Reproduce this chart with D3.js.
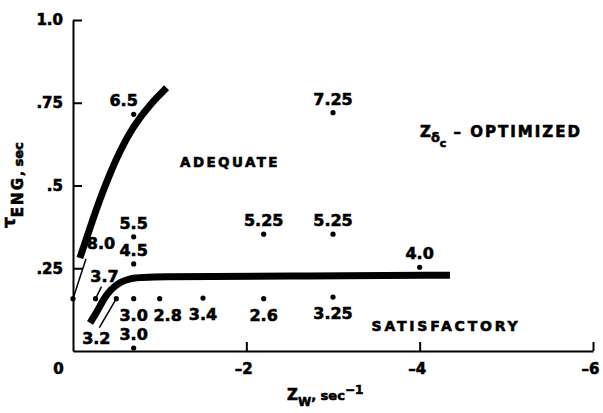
<!DOCTYPE html>
<html>
<head>
<meta charset="utf-8">
<script src="https://cdn.jsdelivr.net/npm/d3@7"></script>
<style>
  body { margin: 0; background: #fff; }
  svg { display: block; }
  text { font-family: "DejaVu Sans", sans-serif; font-weight: bold; fill: #000; stroke: #000; stroke-width: 0.6px; }
</style>
</head>
<body>
<svg id="chart" width="603" height="413"></svg>
<script>
// pilot ratings, tau_ENG vs Z_w
const ptZw = [-0.7, -3.0, -0.7, -0.7, -2.2, -3.0, -4.0, 0, -0.26, -0.5, -0.7, -1.0, -1.5, -2.2, -3.0, -0.7]
const ptTau = [0.715, 0.72, 0.345, 0.263, 0.353, 0.353, 0.253, 0.158, 0.158, 0.158, 0.158, 0.158, 0.16, 0.158, 0.163, 0.009]
const ptRating = ['6.5', '7.25', '5.5', '4.5', '5.25', '5.25', '4.0', '8.0', '3.7', '3.2', '3.0', '2.8', '3.4', '2.6', '3.25', '3.0']
const ptPlace = ['nw', 'n', 'n', 'n', 'n', 'n', 'n', 'lead8', 'lead37', 'lead32', 's', 'se', 's', 's', 's', 'n']

// boundary curves
const bound1Zw = [-0.08, -0.196, -0.31, -0.43, -0.54, -0.69, -0.89, -1.08]
const bound1Tau = [0.281, 0.372, 0.459, 0.538, 0.604, 0.677, 0.746, 0.795]
const bound2Zw = [-0.196, -0.277, -0.346, -0.427, -0.54, -0.66, -0.85, -2.5, -4.35]
const bound2Tau = [0.085, 0.118, 0.154, 0.184, 0.208, 0.22, 0.225, 0.226, 0.229]

const xTicks = [0, -2, -4, -6]
const yTicks = [0.25, 0.5, 0.75, 1.0]

const svg = d3.select('#chart')
svg.append('rect').attr('width', 603).attr('height', 413).attr('fill', '#fff')

const x = d3.scaleLinear().domain([0, -6]).range([73, 593])
const y = d3.scaleLinear().domain([0, 1]).range([351, 20])

const xAxis = svg.append('g')
  .attr('transform', `translate(0,${y(0)})`)
  .call(d3.axisBottom(x).tickValues(xTicks).tickSize(-9).tickSizeOuter(0).tickPadding(12)
    .tickFormat(d => d === 0 ? '0' : '\u2013' + Math.abs(d)))
xAxis.selectAll('text').attr('font-size', 15).attr('font-family', null)
  .attr('dx', d => d === 0 ? -15 : -3)
xAxis.selectAll('line,path').attr('stroke', '#000').attr('stroke-width', 2)
xAxis.selectAll('.tick').filter(d => d === 0).select('line').remove()

const yAxis = svg.append('g')
  .attr('transform', `translate(${x(0)},0)`)
  .call(d3.axisLeft(y).tickValues(yTicks).tickSize(-9).tickSizeOuter(0).tickPadding(10)
    .tickFormat(d => d === 1 ? '1.0' : String(d).replace('0.', '.')))
yAxis.selectAll('text').attr('font-size', 15).attr('font-family', null)
yAxis.selectAll('line,path').attr('stroke', '#000').attr('stroke-width', 2)
svg.selectAll('.domain').attr('fill', 'none')

// boundary lines
const line = d3.line().x(d => x(d[0])).y(d => y(d[1])).curve(d3.curveBasis)
svg.append('path')
  .attr('d', line(bound1Zw.map((v, i) => [v, bound1Tau[i]])))
  .attr('fill', 'none').attr('stroke', '#000').attr('stroke-width', 7)
svg.append('path')
  .attr('d', line(bound2Zw.map((v, i) => [v, bound2Tau[i]])))
  .attr('fill', 'none').attr('stroke', '#000').attr('stroke-width', 7)

// label placements relative to the dot
const place = {
  n: { dx: 0, dy: -8 },
  nw: { dx: -10, dy: -8 },
  s: { dx: 0, dy: 22 },
  se: { dx: 8, dy: 22 },
  lead8: { dx: 28, dy: -50, lx: 13, ly: -40 },
  lead37: { dx: 9, dy: -17, lx: 6, ly: -12 },
  lead32: { dx: -20, dy: 45, lx: -17, ly: 29 }
}

const pts = ptZw.map((v, i) => ({ zw: v, tau: ptTau[i], r: ptRating[i], p: place[ptPlace[i]] }))

svg.selectAll('.lead').data(pts.filter(d => d.p.lx !== undefined)).join('line')
  .attr('class', 'lead')
  .attr('x1', d => x(d.zw)).attr('y1', d => y(d.tau))
  .attr('x2', d => x(d.zw) + d.p.lx).attr('y2', d => y(d.tau) + d.p.ly)
  .attr('stroke', '#000').attr('stroke-width', 1.5)

svg.selectAll('.dot').data(pts).join('circle')
  .attr('class', 'dot')
  .attr('cx', d => x(d.zw)).attr('cy', d => y(d.tau)).attr('r', 2.6)
  .attr('fill', '#000')

svg.selectAll('.rating').data(pts).join('text')
  .attr('class', 'rating')
  .attr('x', d => x(d.zw) + d.p.dx).attr('y', d => y(d.tau) + d.p.dy)
  .attr('text-anchor', 'middle').attr('font-size', 16)
  .text(d => d.r)

// region labels
svg.append('text').attr('x', 230).attr('y', 167).attr('text-anchor', 'middle')
  .attr('font-size', 13.5).attr('letter-spacing', 2.4).text('ADEQUATE')
svg.append('text').attr('x', 446).attr('y', 331).attr('text-anchor', 'middle')
  .attr('font-size', 14).attr('letter-spacing', 2.8).text('SATISFACTORY')

const opt = svg.append('text').attr('x', 420).attr('y', 137).attr('font-size', 15)
opt.append('tspan').text('Z')
opt.append('tspan').attr('font-size', 13).attr('dy', 5).text('\u03b4')
opt.append('tspan').attr('font-size', 11).attr('dy', 5).text('c')
opt.append('tspan').attr('dy', -10).attr('letter-spacing', 2).text(' \u2013 OPTIMIZED')

// axis titles
const xt = svg.append('text').attr('x', 287).attr('y', 400).attr('font-size', 15)
xt.append('tspan').text('Z')
xt.append('tspan').attr('font-size', 12).attr('dy', 6).text('W')
xt.append('tspan').attr('font-size', 13).attr('dy', -6).text(', sec')
xt.append('tspan').attr('font-size', 12).attr('dy', -6).text('\u22121')

const yt = svg.append('text').attr('transform', 'translate(23,228) rotate(-90)').attr('font-size', 15)
yt.append('tspan').attr('font-size', 17).attr('dy', -8).text('\u03c4')
yt.append('tspan').attr('dy', 8).attr('letter-spacing', 2).text('ENG')
yt.append('tspan').attr('font-size', 13).text(', sec')
</script>
</body>
</html>
